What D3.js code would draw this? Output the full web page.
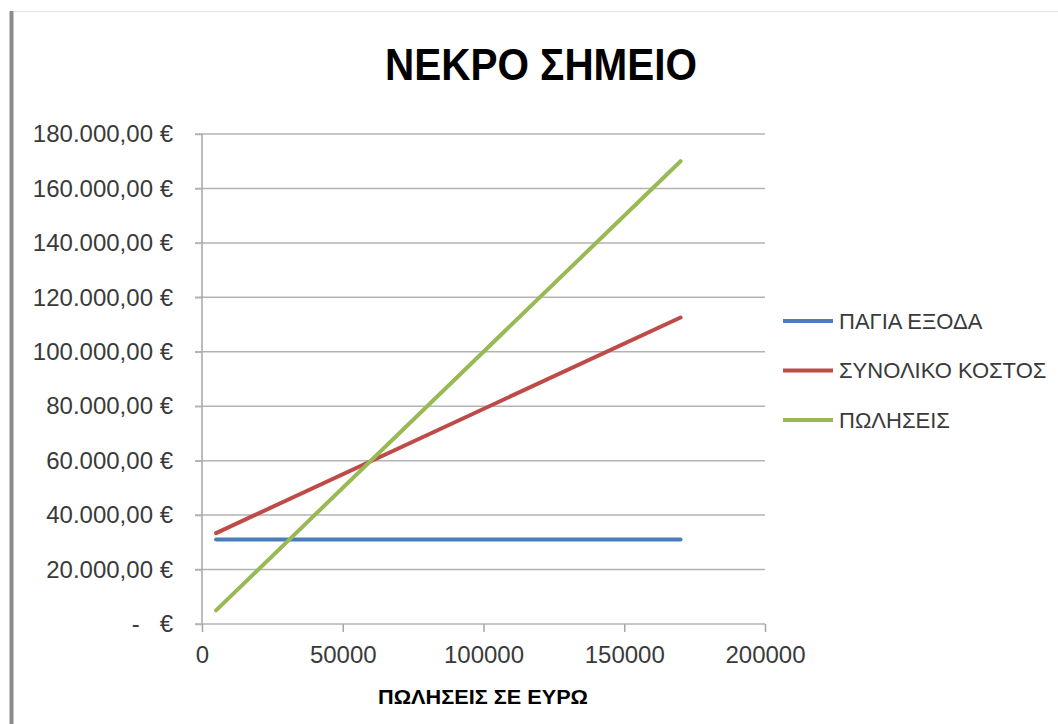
<!DOCTYPE html>
<html>
<head>
    <meta charset="utf-8">
    <script src="https://d3js.org/d3.v7.min.js"></script>
    <title>ΝΕΚΡΟ ΣΗΜΕΙΟ</title>
    <style>
        body { margin: 0; background: #fff; }
        text { font-family: "Liberation Sans", Arial, sans-serif; }
    </style>
</head>
<body>
<div id="chart"></div>
<script>
    // data
    const sales = [5000, 170000];
    const fixedCosts = [31000, 31000];
    const totalCost = [33400, 112600];
    const revenue = [5000, 170000];

    const seriesNames = ["ΠΑΓΙΑ ΕΞΟΔΑ", "ΣΥΝΟΛΙΚΟ ΚΟΣΤΟΣ", "ΠΩΛΗΣΕΙΣ"];
    const seriesColors = ["#4a7ebb", "#be4b48", "#98b954"];
    const yTicks = [0, 20000, 40000, 60000, 80000, 100000, 120000, 140000, 160000, 180000];
    const xTicks = [0, 50000, 100000, 150000, 200000];

    const width = 1058, height = 724;
    const margin = { top: 134, bottom: 100, left: 202, right: 293 };

    const svg = d3.select("#chart").append("svg")
        .attr("width", width)
        .attr("height", height);

    // frame bits from the screenshot
    svg.append("line")
        .attr("x1", 13).attr("x2", width)
        .attr("y1", 11.5).attr("y2", 11.5)
        .attr("stroke", "#e4e4e4");
    svg.append("rect")
        .attr("x", 9.5).attr("y", 11)
        .attr("width", 4).attr("height", height - 11)
        .attr("fill", "#8c8c8c");

    const xScale = d3.scaleLinear().domain([0, 200000]).range([margin.left, width - margin.right]);
    const yScale = d3.scaleLinear().domain([0, 180000]).range([height - margin.bottom, margin.top]);

    // gridlines
    svg.append("g")
        .selectAll("line")
        .data(yTicks.slice(1))
        .enter()
        .append("line")
        .attr("x1", margin.left - 7)
        .attr("x2", xScale(200000))
        .attr("y1", d => yScale(d))
        .attr("y2", d => yScale(d))
        .attr("stroke", "#b3b3b3")
        .attr("stroke-width", 1.5);

    // y axis
    const fmt = d3.formatLocale({ decimal: ",", thousands: ".", grouping: [3], currency: ["", " €"] });
    const yAxis = svg.append("g")
        .attr("transform", "translate(" + margin.left + ",0)")
        .call(d3.axisLeft(yScale).tickValues(yTicks).tickSize(7).tickPadding(22)
            .tickFormat(d => d === 0 ? "-   €" : fmt.format(",.2f")(d) + " €"));
    yAxis.select(".domain").attr("stroke", "#a6a6a6").attr("stroke-width", 1.5)
        .attr("d", "M0," + yScale(0) + "V" + yScale(180000));
    yAxis.selectAll(".tick line").attr("stroke", "#b3b3b3").attr("stroke-width", 1.5);
    yAxis.selectAll(".tick text")
        .attr("fill", "#3a3a3a")
        .style("font-size", "24px")
        .style("white-space", "pre")
        .attr("xml:space", "preserve");

    // x axis
    const xAxis = svg.append("g")
        .attr("transform", "translate(0," + yScale(0) + ")")
        .call(d3.axisBottom(xScale).tickValues(xTicks).tickSize(8).tickPadding(14)
            .tickFormat(d3.format("d")));
    xAxis.select(".domain").attr("stroke", "#b3b3b3").attr("stroke-width", 1.5)
        .attr("d", "M" + (margin.left - 7) + ",0H" + xScale(200000));
    xAxis.selectAll(".tick line").attr("stroke", "#a6a6a6").attr("stroke-width", 1.5);
    xAxis.selectAll(".tick text")
        .attr("fill", "#3a3a3a")
        .style("font-size", "24px");

    // series lines
    const series = [fixedCosts, totalCost, revenue];
    const line = d3.line()
        .x((d, i) => xScale(sales[i]))
        .y(d => yScale(d));

    svg.append("g")
        .selectAll("path")
        .data(series)
        .enter()
        .append("path")
        .attr("d", d => line(d))
        .attr("fill", "none")
        .attr("stroke", (d, i) => seriesColors[i])
        .attr("stroke-width", 4)
        .attr("stroke-linecap", "round");

    // legend
    const legend = svg.append("g")
        .selectAll("g")
        .data(seriesNames)
        .enter()
        .append("g")
        .attr("transform", (d, i) => "translate(783," + (321 + i * 49.5) + ")");
    legend.append("line")
        .attr("x1", 0).attr("x2", 50)
        .attr("stroke", (d, i) => seriesColors[i])
        .attr("stroke-width", 4);
    legend.append("text")
        .attr("x", 56)
        .attr("dy", "0.36em")
        .attr("fill", "#3a3a3a")
        .style("font-size", "22px")
        .text(d => d);

    // titles
    svg.append("text")
        .attr("x", 541)
        .attr("y", 80)
        .attr("text-anchor", "middle")
        .style("font-size", "45px")
        .style("font-weight", "bold")
        .attr("textLength", 312)
        .attr("lengthAdjust", "spacingAndGlyphs")
        .attr("fill", "#000")
        .text("ΝΕΚΡΟ ΣΗΜΕΙΟ");

    svg.append("text")
        .attr("x", 483)
        .attr("y", 704)
        .attr("text-anchor", "middle")
        .style("font-size", "20px")
        .style("font-weight", "bold")
        .attr("textLength", 210)
        .attr("lengthAdjust", "spacingAndGlyphs")
        .attr("fill", "#000")
        .text("ΠΩΛΗΣΕΙΣ ΣΕ ΕΥΡΩ");
</script>
</body>
</html>
